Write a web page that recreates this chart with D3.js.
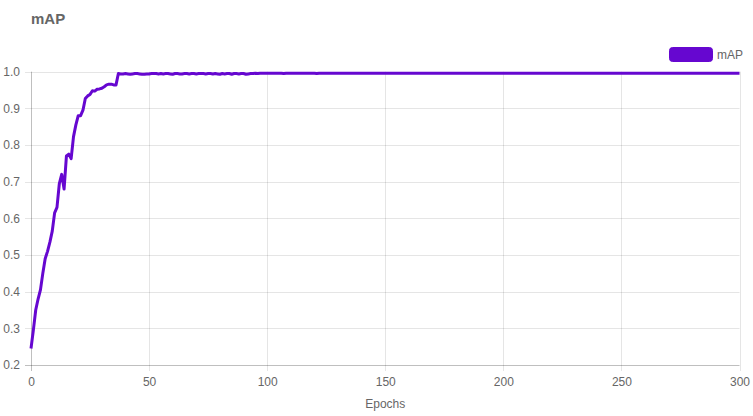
<!DOCTYPE html>
<html>
<head>
<meta charset="utf-8">
<script src="https://cdn.jsdelivr.net/npm/d3@7"></script>
<style>
  html, body { margin: 0; padding: 0; background: #fff; }
  svg { display: block; }
  text { font-family: "Liberation Sans", Arial, Helvetica, sans-serif; fill: #666; }
</style>
</head>
<body>
<svg id="chart" width="753" height="416"></svg>
<script>
const chartTitle = "mAP";
const seriesName = "mAP";
const xAxisTitle = "Epochs";
const xTicks = [0, 50, 100, 150, 200, 250, 300];
const yTicks = [0.2, 0.3, 0.4, 0.5, 0.6, 0.7, 0.8, 0.9, 1.0];
const lineColor = "#6607d0";

// mAP per epoch (epochs 0..300)
const mapValues = [
  0.245, 0.295, 0.350, 0.380, 0.405, 0.450, 0.490, 0.510, 0.535, 0.565,
  0.615, 0.630, 0.695, 0.720, 0.680, 0.770, 0.775, 0.763, 0.823, 0.855,
  0.880, 0.880, 0.895, 0.927, 0.934, 0.938, 0.948, 0.947, 0.952, 0.953,
  0.955, 0.959, 0.964, 0.966, 0.966, 0.964, 0.964, 0.995, 0.994, 0.994,
  0.995, 0.994, 0.993, 0.994, 0.995, 0.995, 0.994, 0.993, 0.993, 0.994,
  0.994, 0.995, 0.995, 0.995, 0.994, 0.995, 0.994, 0.995, 0.995, 0.994,
  0.993, 0.995, 0.995, 0.994, 0.994, 0.995, 0.995, 0.994, 0.995, 0.995,
  0.994, 0.995, 0.995, 0.995, 0.994, 0.995, 0.995, 0.994, 0.995, 0.994,
  0.993, 0.995, 0.994, 0.995, 0.995, 0.993, 0.995, 0.995, 0.994, 0.995,
  0.995, 0.993, 0.994, 0.995, 0.995, 0.996, 0.995, 0.996, 0.996, 0.996,
  0.996, 0.996, 0.996, 0.996, 0.996, 0.996, 0.996, 0.995, 0.996, 0.996,
  0.996, 0.996, 0.996, 0.996, 0.996, 0.996, 0.996, 0.996, 0.996, 0.996,
  0.996, 0.995, 0.996, 0.996, 0.996, 0.996, 0.996, 0.996, 0.996, 0.996,
  0.996, 0.996, 0.996, 0.996, 0.996, 0.996, 0.996, 0.996, 0.996, 0.996,
  0.996, 0.996, 0.996, 0.996, 0.996, 0.996, 0.996, 0.996, 0.996, 0.996,
  0.996, 0.996, 0.996, 0.996, 0.996, 0.996, 0.996, 0.996, 0.996, 0.996,
  0.996, 0.996, 0.996, 0.996, 0.996, 0.996, 0.996, 0.996, 0.996, 0.996,
  0.996, 0.996, 0.996, 0.996, 0.996, 0.996, 0.996, 0.996, 0.996, 0.996,
  0.996, 0.996, 0.996, 0.996, 0.996, 0.996, 0.996, 0.996, 0.996, 0.996,
  0.996, 0.996, 0.996, 0.996, 0.996, 0.996, 0.996, 0.996, 0.996, 0.996,
  0.996, 0.996, 0.996, 0.996, 0.996, 0.996, 0.996, 0.996, 0.996, 0.996,
  0.996, 0.996, 0.996, 0.996, 0.996, 0.996, 0.996, 0.996, 0.996, 0.996,
  0.996, 0.996, 0.996, 0.996, 0.996, 0.996, 0.996, 0.996, 0.996, 0.996,
  0.996, 0.996, 0.996, 0.996, 0.996, 0.996, 0.996, 0.996, 0.996, 0.996,
  0.996, 0.996, 0.996, 0.996, 0.996, 0.996, 0.996, 0.996, 0.996, 0.996,
  0.996, 0.996, 0.996, 0.996, 0.996, 0.996, 0.996, 0.996, 0.996, 0.996,
  0.996, 0.996, 0.996, 0.996, 0.996, 0.996, 0.996, 0.996, 0.996, 0.996,
  0.996, 0.996, 0.996, 0.996, 0.996, 0.996, 0.996, 0.996, 0.996, 0.996,
  0.996, 0.996, 0.996, 0.996, 0.996, 0.996, 0.996, 0.996, 0.996, 0.996,
  0.996, 0.996, 0.996, 0.996, 0.996, 0.996, 0.996, 0.996, 0.996, 0.996,
  0.996
];
const epochs = mapValues.map((_, i) => i);

const svg = d3.select("#chart");
const plotLeft = 31, plotRight = 739.5, plotTop = 71.7, plotBottom = 365;

const x = d3.scaleLinear().domain([0, 300]).range([plotLeft, plotRight]);
const y = d3.scaleLinear().domain([0.2, 1.0]).range([plotBottom, plotTop]);

// grid
const grid = svg.append("g");
grid.selectAll("line.h").data(yTicks).enter().append("line")
  .attr("x1", plotLeft - 6).attr("x2", plotRight)
  .attr("y1", d => Math.round(y(d)) + 0.5).attr("y2", d => Math.round(y(d)) + 0.5)
  .attr("stroke", d => d === 0.2 ? "rgba(0,0,0,0.25)" : "rgba(0,0,0,0.1)")
  .attr("stroke-width", 1);
grid.selectAll("line.v").data(xTicks).enter().append("line")
  .attr("y1", plotTop).attr("y2", plotBottom + 6)
  .attr("x1", d => Math.round(x(d)) + 0.5).attr("x2", d => Math.round(x(d)) + 0.5)
  .attr("stroke", d => d === 0 ? "rgba(0,0,0,0.25)" : "rgba(0,0,0,0.1)")
  .attr("stroke-width", 1);

// y axis labels
const yAxis = d3.axisLeft(y).tickValues(yTicks).tickFormat(d3.format(".1f")).tickSize(0).tickPadding(11);
const gy = svg.append("g").attr("transform", `translate(${plotLeft},0)`).call(yAxis);
gy.select(".domain").remove();
gy.selectAll("text").style("font-size", "12px").attr("fill", "#666")
  .style("font-family", "'Liberation Sans', Arial, sans-serif");

// x axis labels
const xAxis = d3.axisBottom(x).tickValues(xTicks).tickFormat(d3.format("d")).tickSize(0).tickPadding(12);
const gx = svg.append("g").attr("transform", `translate(0,${plotBottom})`).call(xAxis);
gx.select(".domain").remove();
gx.selectAll("text").style("font-size", "12px").attr("fill", "#666")
  .style("font-family", "'Liberation Sans', Arial, sans-serif");

// axis title
svg.append("text").attr("x", (plotLeft + plotRight) / 2).attr("y", 408)
  .attr("text-anchor", "middle").style("font-size", "12px").text(xAxisTitle);

// line
const line = d3.line().x((d, i) => x(epochs[i])).y(d => y(d)).curve(d3.curveLinear);
svg.append("path").datum(mapValues)
  .attr("fill", "none").attr("stroke", lineColor).attr("stroke-width", 3)
  .attr("stroke-linejoin", "round").attr("d", line);

// title
svg.append("text").attr("x", 31).attr("y", 24)
  .style("font-size", "15px").style("font-weight", "bold").text(chartTitle);

// legend
svg.append("rect").attr("x", 669.5).attr("y", 47.5).attr("width", 43).attr("height", 14)
  .attr("rx", 3).attr("fill", lineColor).attr("stroke", lineColor);
svg.append("text").attr("x", 717).attr("y", 59)
  .style("font-size", "12px").text(seriesName);
</script>
</body>
</html>
